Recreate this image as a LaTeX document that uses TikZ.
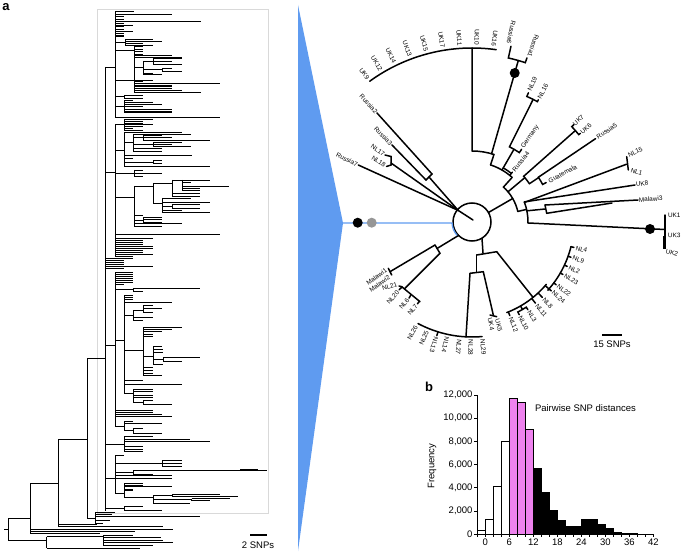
\documentclass[tikz,border=0pt]{standalone}
\usepackage{fontspec}
\setmainfont{Liberation Sans}
\definecolor{wedgeblue}{RGB}{95,155,240}
\definecolor{snppink}{RGB}{238,130,238}
\definecolor{dotgray}{RGB}{150,150,150}

\begin{document}
\begin{tikzpicture}[x=1pt, y=-1pt, every node/.style={inner sep=1pt},
  ltree/.style={line width=0.6pt},
  rtree/.style={line width=1.5pt, line cap=round},
  tiplab/.style={font=\fontsize{6.4}{7}\selectfont, inner sep=0.8pt},
  axlab/.style={font=\fontsize{9.5}{11}\selectfont, inner sep=1.5pt},
  panel/.style={font=\fontsize{13}{15}\selectfont\bfseries}]
\useasboundingbox (0,0) rectangle (685,556);

% Panel letters
\node[panel] (pa) at (6,7) {a};
\node[panel] (pb) at (429,387) {b};

% Full tree (rectangular)
\draw[gray!30, line width=0.4pt] (97,9) rectangle (268,513);
\foreach \x/\ya/\yb in {8/518/540, 30/483/533, 58/439/526.5, 87/358/518, 105/67/511, 46.7/536.7/548.3,
    115/11.7/117.3, 125/39/45, 134/46.7/54, 134/55.5/92.3, 143.3/61/74.5, 153.3/58.3/64, 162.3/68.3/71,
    124/95/98.3, 124/100.7/112.7,
    115/124.7/256.7, 124/119.5/130, 124/132/166.7, 133.3/134/151.7, 143.3/135.5/140, 153.3/142.7/146.5,
    153.3/160.5/163.5, 134/170/176.7,
    134/186/226.7, 153.3/183/203, 172/180/196.7, 182/180/190.7, 162.3/198/212.3, 172/204.5/208.3, 143.3/217/222,
    115/272/426, 133.3/288/291, 124/295/393, 133.3/310/320, 143.3/305.5/312.5, 143.3/327/375, 153.3/346/364,
    163.3/357/361, 133.3/389/402, 143.3/400/404.5, 124/421/430, 133.3/428/433.3,
    124/436.7/451.7, 115/455/493, 162.3/460/466, 133.3/470.5/474, 124/483.3/497, 153.3/495/503.3,
    172/494/496.5, 191.7/498.5/500.5, 124/506.7/510.7,
    95/512/523, 103.3/535/545}
  \draw[ltree] (\x,\ya) -- (\x,\yb);
\foreach \y/\xa/\xb in {529/4/8, 518/8/30, 540/8/46.7, 483/30/58, 439/58/87, 358/87/105,
    67/105/115, 11.7/115/134, 14.3/115/172, 16.7/115/124, 19/115/124, 21/115/201, 23.3/115/124, 25/115/133,
    26.7/115/124, 29.3/115/124, 31.7/115/133, 33.3/115/124, 35/115/124, 36.7/115/124,
    42.7/115/125, 39/125/153, 41.5/125/162, 43.5/125/143, 45/125/153,
    50.3/115/134, 46.7/134/143, 49/134/143, 51.5/134/143, 54/134/143,
    80/115/153, 55.5/134/172, 57.5/134/182, 81.7/134/143, 83.3/134/220, 85/134/172, 86.7/134/172,
    88.3/134/172, 90/134/182, 92.3/134/201,
    67.5/134/143.3, 61/143.3/172, 58.3/153.3/182, 64/153.3/182, 69.7/143.3/162.3, 68.3/162.3/172,
    71/162.3/182, 73/143.3/153, 74.5/143.3/162,
    96.7/115/124, 95/124/143, 98.3/124/143,
    106.7/115/143, 100.7/124/133, 102.5/124/153, 104.5/124/162, 109.3/124/172, 111/124/172, 112.7/124/172,
    117.3/115/220,
    172/105/115, 124.7/115/153, 119.5/124/153, 121.2/124/143, 123/124/143, 126.4/124/143, 128.2/124/133, 130/124/143,
    150/115/124, 132/124/182, 142/124/133.3, 134/133.3/191, 137.5/133.3/172, 135.5/143.3/162, 140/143.3/210,
    144.5/133.3/172, 142.7/153.3/182, 146.5/153.3/191, 148.5/133.3/162, 151.7/133.3/162, 155/124/192,
    158.3/124/133, 162/124/153.3, 160.5/153.3/162, 163.5/153.3/162, 166.7/124/210,
    173.3/115/162, 170/134/143, 176.7/134/143,
    197/115/134, 186/134/153.3, 183/153.3/172, 180/172/210, 182.7/182/191, 186.7/182/229, 188.5/182/200,
    190.7/182/200, 193.3/172/200, 196.7/172/200, 203/153.3/162.3, 198/162.3/191, 202/162.3/210, 206/162.3/172,
    204.5/172/200, 208.3/172/200, 210/162.3/182, 212.3/162.3/210, 215/134/143.3, 220/134/143.3,
    217/143.3/162, 219.5/143.3/162, 222/143.3/162, 223.7/134/182, 226.7/134/162,
    234/115/220, 238/115/153, 240/115/143, 242/115/143, 244/115/143, 246/115/153, 248/115/153, 250/115/143,
    252.5/115/143, 254.5/115/153, 256.7/115/133,
    258.3/105/133, 260.5/105/124, 262.5/105/124, 264.5/105/124, 266.7/105/153, 268.7/105/124,
    345/105/115, 272/115/133, 274/115/133, 276/115/133, 278/115/133, 280/115/133, 282/115/133, 284.5/115/124,
    289/115/133.3, 288/133.3/200, 291/133.3/143,
    340/115/124, 295/124/133, 297/124/133, 299/124/133, 302.5/124/172,
    315/124/133.3, 310/133.3/143.3, 305.5/143.3/153, 308/143.3/162, 312.5/143.3/153, 317/133.3/153, 320/133.3/143,
    350/124/143.3, 327/143.3/182, 329/143.3/172, 331.5/143.3/162, 334/143.3/153, 336/143.3/153,
    356/143.3/153.3, 346/153.3/162, 349/153.3/163, 352/153.3/163, 359/153.3/163.3, 357/163.3/200,
    361/163.3/182, 364/153.3/163, 367/143.3/153, 370/143.3/153, 373/143.3/153, 375/143.3/162,
    380/124/143, 384/124/182, 393/124/133.3, 389/133.3/153, 391/133.3/153, 395/133.3/153, 397.5/133.3/153,
    402/133.3/143.3, 400/143.3/153, 404.5/143.3/172,
    410/115/153, 412/115/153, 414/115/162, 416.5/115/172,
    426/115/124, 421/124/133, 423.5/124/162, 430/124/133.3, 428/133.3/143, 433.3/133.3/162,
    444/105/124, 436.7/124/153, 439.3/124/190, 441.7/124/210, 446.5/124/143, 449/124/143, 451.7/124/143,
    478/105/172, 455/115/124, 463/115/182, 460/162.3/182, 466/162.3/182, 472/115/133.3, 470.5/133.3/266.7,
    474/133.3/153, 469/240/258, 475.5/115/172,
    493/115/124, 483.3/124/143, 485/124/143, 486.7/124/172, 489/124/133, 490.7/124/133, 497/124/153.3,
    495/153.3/172, 494/172/220, 496.5/172/238, 499/153.3/191.7, 498.5/191.7/230, 500.5/191.7/210, 503.3/153.3/190,
    508.5/105/124, 506.7/124/143, 510.7/124/162,
    518/87/95, 512/95/115, 514/95/112, 516.7/95/200, 520/95/110, 523/95/103,
    524/58/97, 526.5/58/163, 529/30/173, 531/30/135, 533/30/100,
    536.7/46.7/103.3, 535/103.3/133, 537.5/103.3/161, 540/103.3/163, 542.5/103.3/173, 545/103.3/153, 548.3/46.7/140}
  \draw[ltree] (\xa,\y) -- (\xb,\y);
% Scale bar
\draw[line width=1.4pt] (250,535) -- (267,535);
\node[axlab] (scale2) at (258,545) {2 SNPs};

% Zoom wedge
\fill[wedgeblue] (298,5) -- (343,223) -- (298,551) -- cycle;

% Radial tree of the highlighted clade
\begin{scope}[shift={(472,222)}, y=1pt]
  % Root ring
  \draw[rtree] (0,0) circle (19);
  \coordinate (hub) at (140:18);
  \draw[rtree] (hub) -- (1,2);

  % Upper-left clades
  \draw[rtree] (hub) -- (-43,45);
  \draw[rtree] (-46,42) -- (-40,48);
  \draw[rtree] (-40,48) -- (-95,109) coordinate (russia2);
  \draw[rtree] (-46,42) -- (-80,77) coordinate (russia3);
  \draw[rtree] (hub) -- (-81,59);
  \draw[rtree] (-87,67) -- (-81,65.5) -- (-81,57) -- (-85.5,55.5);
  \draw[rtree] (hub) -- (-113.7,57) coordinate (russia7);
  \node[tiplab, anchor=east, rotate=-48] (lab-r2) at (russia2) {Russia2};
  \node[tiplab, anchor=east, rotate=-46] (lab-r3) at (russia3) {Russia3};
  \node[tiplab, anchor=east, rotate=-34] (lab-nl17) at (-87,67) {NL17};
  \node[tiplab, anchor=east, rotate=-32] (lab-nl18) at (-86,56) {NL18};
  \node[tiplab, anchor=east, rotate=-26] (lab-r7) at (russia7) {Russia7};

  % UK clade
  \draw[rtree] (72:71) arc[start angle=72, end angle=90, radius=71] -- (90:174);
  \draw[rtree] (82:174) arc[start angle=82, end angle=126, radius=174];
  \foreach \a/\t in {126/UK9, 121/UK12, 116/UK14, 110.5/UK13, 105/UK15, 99.5/UK17, 94/UK11, 88.5/UK10, 83/UK16}
    \node[tiplab, anchor=east, rotate=\a-180] (lab-\t) at (\a:176) {\t};

  % Russia6 / Russia1
  \draw[rtree] (74:71) -- (74:168);
  \draw[rtree] (77.5:180) -- (77.5:168) arc[start angle=77.5, end angle=71.5, radius=168] -- (71.5:173);
  \fill (74:155) circle (5);

  % Germany, NL19, NL16, Russia4
  \draw[rtree] (72:71) -- (72:60);
  \draw[rtree] (48:60) arc[start angle=48, end angle=72, radius=60];
  \draw[rtree] (51:62.5) arc[start angle=51, end angle=60, radius=62.5];
  \draw[rtree] (51:60) -- (51:64);
  \draw[rtree] (60:60) -- (60:84);
  \draw[rtree] (55.7:88) -- (55.7:84) arc[start angle=55.7, end angle=63.5, radius=84] -- (63.5:137);
  \draw[rtree] (66.4:141) -- (66.4:137) arc[start angle=66.4, end angle=61.5, radius=137] -- (61.5:139);

  % UK7, UK6, Russia5, Guatemala
  \draw[rtree] (30:19) -- (30:47);
  \draw[rtree] (13:47) arc[start angle=13, end angle=48, radius=47] -- (48:60);
  \draw[rtree] (40:47) -- (40:69);
  \draw[rtree] (33.7:69) arc[start angle=33.7, end angle=41.5, radius=69] -- (41.5:138);
  \draw[rtree] (43.7:141) -- (43.7:138) arc[start angle=43.7, end angle=39.3, radius=138] -- (39.3:140);
  \draw[rtree] (33.7:69) -- (33.7:80);
  \draw[rtree] (28:84) -- (28:80) arc[start angle=28, end angle=34, radius=80] -- (34:149);

  % NL15, NL1, UK8, Malawi3, UK1-3
  \draw[rtree] (13:47) -- (13:56);
  \draw[rtree] (-1:56) arc[start angle=-1, end angle=21, radius=56];
  \draw[rtree] (20.5:56) -- (20.5:165);
  \draw[rtree] (154.7,65.3) -- (156.3,52);
  \draw[rtree] (21:56) -- (163,37) coordinate (uk8);
  \draw[rtree] (11.5:56) -- (73,13);
  \draw[rtree] (73,17) -- (74.7,8.7);
  \draw[rtree] (73,17) -- (166,22) coordinate (malawi3);
  \draw[rtree] (74.7,8.7) -- (140,19);
  \draw[rtree] (-1:56) -- (193,-7.5);
  \draw[rtree] (193,7) -- (193,-25);
  \draw[line width=2.6pt] (192.3,-14) -- (192.3,-26.5);
  \fill (178,-7) circle (5);
  \node[tiplab, anchor=west, rotate=25] (lab-nl15) at (155.5,66.5) {NL15};
  \node[tiplab, anchor=west, rotate=-18] (lab-nl1) at (158,52) {NL1};
  \node[tiplab, anchor=west, rotate=10] (lab-uk8) at (uk8) {UK8};
  \node[tiplab, anchor=west, rotate=4] (lab-malawi3) at (malawi3) {Malawi3};
  \node[tiplab, anchor=west] (lab-uk1) at (195,7) {UK1};
  \node[tiplab, anchor=west, rotate=-3] (lab-uk3) at (195,-13) {UK3};
  \node[tiplab, anchor=west, rotate=-15] (lab-uk2) at (193,-29) {UK2};

  % Lower-left clades
  \draw[rtree] (225:19) -- (-35,-26.5);
  \draw[rtree] (-37,-23) -- (-32,-31.3);
  \draw[rtree] (-37,-23) -- (-82,-49.7);
  \draw[rtree] (-83.7,-46.3) -- (-80.3,-53);
  \draw[rtree] (-32,-31.3) -- (-67,-66.3);
  \draw[rtree] (-70.3,-64.7) -- (-52,-79.7);
  \draw[rtree] (-70.3,-64.7) -- (-73,-64);
  \draw[rtree] (-70,-65) -- (-72.9,-67.8);
  \draw[rtree] (-61,-72.6) -- (-62.9,-76.1);
  \draw[rtree] (-52.6,-79.2) -- (-54.5,-81.8);
  \node[tiplab, anchor=east, rotate=35] (lab-malawi1) at (-85,-47.5) {Malawi1};
  \node[tiplab, anchor=east, rotate=35] (lab-malawi2) at (-82,-54.5) {Malawi2};
  \node[tiplab, anchor=east, rotate=15] (lab-nl21) at (-74,-62.5) {NL21};
  \node[tiplab, anchor=east, rotate=50] (lab-nl20) at (-73.5,-69) {NL20};
  \node[tiplab, anchor=east, rotate=50] (lab-nl6) at (-63.5,-76.8) {NL6};
  \node[tiplab, anchor=east, rotate=50] (lab-nl7) at (-55,-82.5) {NL7};

  % Bottom clades
  \draw[rtree] (10,-16.5) -- (11,-31);
  \draw[rtree] (4.7,-33) -- (24.7,-29.7);
  \draw[rtree] (4.7,-33) -- (4.7,-49.7);
  \draw[rtree] (-2,-51.3) -- (11.3,-49.7);
  \draw[rtree] (-2,-51.3) -- (267:115);
  \draw[rtree] (242:115) arc[start angle=242, end angle=275, radius=115];
  \draw[rtree] (252.8:115) -- (252.8:119);
  \draw[rtree] (11.3,-49.7) -- (21.3,-93);
  \draw[rtree] (18,-93) -- (24.7,-94.7);
  \node[tiplab, anchor=west, rotate=-78] (lab-uk4) at (17.5,-95) {UK4};
  \node[tiplab, anchor=west, rotate=-76] (lab-uk5) at (25,-96.5) {UK5};
  \draw[rtree] (24.7,-29.7) -- (-51:97);
  \draw[rtree] (-69:97) arc[start angle=-69, end angle=-40, radius=97];
  \draw[rtree] (-41:97) -- (-41:102);
  \draw[rtree] (-42:102) arc[start angle=-42, end angle=-14, radius=102];
  \draw[rtree] (-60:97) -- (-60:101);
  \draw[rtree] (-63:104) -- (-63:101) arc[start angle=-63, end angle=-57.5, radius=101] -- (-57.5:104);
  \foreach \a/\ra/\rb in {-68/97/101, -52/97/103, -47/97/103, -41/102/105, -36.7/102/105, -30/102/105,
      -25/102/105, -19.6/102/105, -14/102/105}
    \draw[rtree] (\a:\ra) -- (\a:\rb);
  \foreach \a/\r/\t in {78.3/181/Russia6, 70.8/174/Russia1, 241.7/117/NL26, 247.5/117/NL25}
    \node[tiplab, anchor=east, rotate=\a-180] (lab-\t) at (\a:\r) {\t};
  \foreach \a/\r/\t in {66.4/142/NL19, 61.5/140/NL16, 55.7/89/Germany, 51/65/Russia4, 43.7/140/UK7,
      39.3/140/UK6, 34/150/Russia5, 28/86/Guatemala, -68/102/NL12, -63/105/NL10, -57.5/105/NL3,
      -52/104/NL11, -47/104/NL8, -41/106/NL24, -36.7/106/NL22, -30/106/NL23, -25/106/NL2,
      -19.6/106/NL9, -14/106/NL4, 252.8/120/NL13, 257.8/117/NL14, 263.9/117/NL27, 269.4/117/NL28,
      275.1/117/NL29}
    \node[tiplab, anchor=west, rotate=\a] (lab-\t) at (\a:\r) {\t};

  % Root branch back to the full tree
  \draw[wedgeblue, line width=1.3pt] (-129,-1) -- (183:20) arc[start angle=183, end angle=222, radius=20];
  \fill[black] (-114.3,-0.7) circle (5);
  \fill[dotgray] (-100.3,-0.7) circle (5);
\end{scope}
\draw[line width=1.6pt] (602,335) -- (622,335);
\node[axlab] (scale15) at (612,344.5) {15 SNPs};

% Histogram of pairwise distances
\begin{scope}[shift={(477.3,534)}, x=8pt, y=11.583pt]
  \foreach \k/\h in {0/0.35, 1/1.25, 2/4.15, 3/8.0}
    \draw[line width=0.6pt] (\k,0) rectangle (\k+1,\h);
  \foreach \k/\h in {4/11.7, 5/11.4, 6/9.0}
    \draw[line width=0.6pt, fill=snppink] (\k,0) rectangle (\k+1,\h);
  \foreach \k/\h in {7/5.7, 8/3.6, 9/2.05, 10/1.15, 11/0.65, 12/0.7, 13/1.27, 14/1.27, 15/0.87,
      16/0.46, 17/0.17, 18/0.08, 19/0.03, 20/0.015}
    \draw[line width=0.6pt, fill=black] (\k,0) rectangle (\k+1,\h);
  \draw[line width=0.6pt] (0,0) -- (22,0);
  \draw[line width=0.6pt] (0,0) -- (0,12);
  \foreach \v/\l in {0/0, 2/{2,000}, 4/{4,000}, 6/{6,000}, 8/{8,000}, 10/{10,000}, 12/{12,000}}
    \draw[line width=0.6pt] (0,\v) -- ++(-3pt,0) node[axlab, anchor=east] (ytick\v) {\l};
  \foreach \k in {0,...,22}
    \draw[line width=0.6pt] (\k,0) -- ++(0,-3pt);
  \foreach \k/\l in {1/0, 4/6, 7/12, 10/18, 13/24, 16/30, 19/36, 22/42}
    \node[axlab, anchor=north] (xtick\k) at (\k,-3.5pt) {\l};
  \node[axlab, anchor=west] (histtitle) at (7,10.9) {Pairwise SNP distances};
\end{scope}
\node[axlab, rotate=90] (freq) at (432,466) {Frequency};
\end{tikzpicture}
\end{document}
